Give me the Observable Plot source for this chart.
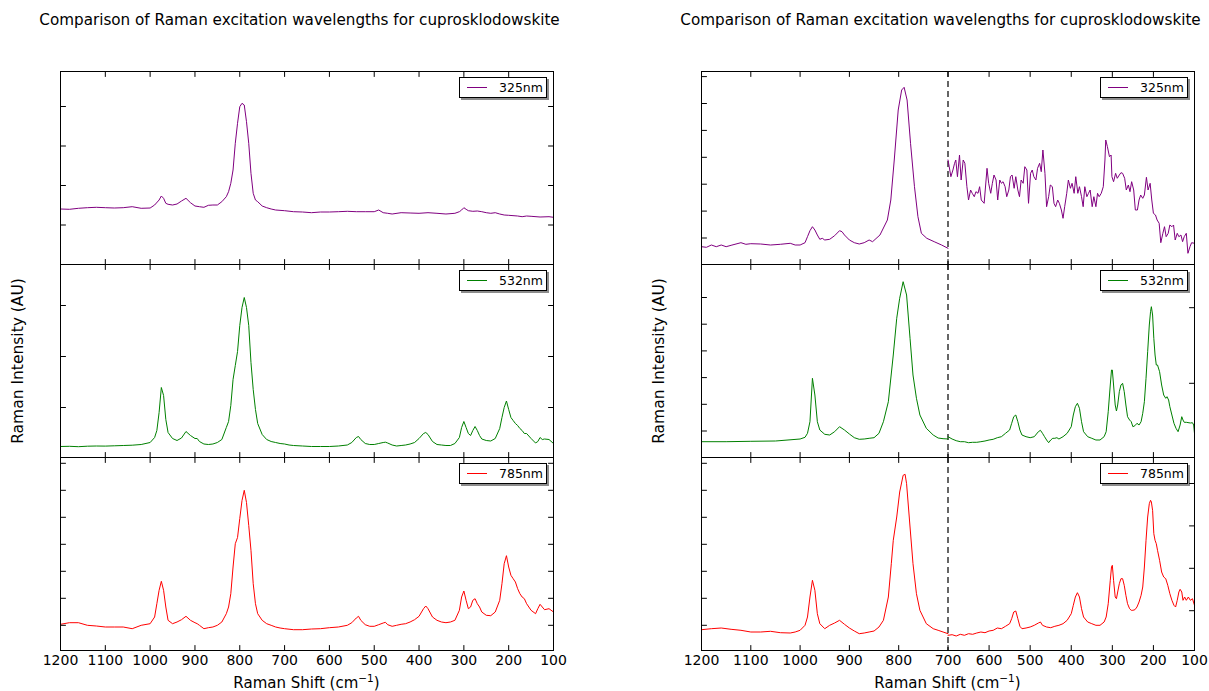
<!DOCTYPE html>
<html>
<head>
<meta charset="utf-8">
<script src="https://cdn.jsdelivr.net/npm/d3@7"></script>
<script src="https://cdn.jsdelivr.net/npm/@observablehq/plot@0.6"></script>
<style>
  body { margin: 0; background: #fff; }
  #fig { position: relative; width: 1209px; height: 691px; overflow: hidden; background: #fff;
         font-family: "DejaVu Sans", sans-serif; color: #000; }
  .txt { position: absolute; white-space: nowrap; }
  .legend { position: absolute; box-sizing: border-box; width: 88px; height: 21px; background: #fff;
            border: 1px solid #000; box-shadow: 2px 2px 0 rgba(0,0,0,0.45); }
</style>
</head>
<body>
<div id="fig"></div>
<script>
// ---------------- data (Raman shift in cm-1, intensity in arbitrary units) ----------------
const chartTitle = "Comparison of Raman excitation wavelengths for cuprosklodowskite";
const yTitle = "Raman Intensity (AU)";
const lasers = ["325nm", "532nm", "785nm"];
const laserColors = ["purple", "green", "red"];
const xTicks = [1200, 1100, 1000, 900, 800, 700, 600, 500, 400, 300, 200, 100];
const splitShift = 700;

// left column: full spectra
const shift325L = [1200,1180,1160,1140,1120,1100,1080,1060,1040,1020,1000,990,980,975,970,965,960,950,940,930,920,910,900,890,880,870,860,850,840,830,825,820,815,810,805,800,795,790,785,780,775,770,765,760,750,740,730,720,700,680,660,640,620,600,580,560,540,520,500,490,480,470,460,440,420,400,380,360,340,320,310,305,300,295,290,280,270,260,250,240,230,220,210,200,180,170,160,150,130,110,100];
const int325L = [55.5,55.2,56.2,56.8,57.2,56.8,56.5,56.8,57.8,56.2,56.5,59.5,64.5,68.5,66.2,61.2,60.2,59.5,60.5,63.5,66.2,61.8,58.5,57.8,57.2,59.2,59.5,59.5,62.8,67.8,72.8,81.2,94.5,121.2,141.2,157.8,161.2,159.5,142.8,121.2,91.2,71.2,64.5,62.8,58.5,56.8,55.5,54.5,53.8,52.8,52.5,51.8,52.5,52.5,52.8,53.2,52.8,52.8,52.8,54.5,51.8,51.2,50.5,51.8,51.5,51.2,51.8,51.2,50.5,51.2,52.8,54.5,56.8,55.2,53.8,53.2,53.5,52.8,51.8,51.2,51.8,50.5,49.5,49.2,48.5,47.8,48.5,48.2,47.5,47.8,47.2];

const shift532L = [1200,1180,1160,1140,1120,1100,1080,1060,1040,1020,1000,990,985,980,975,970,965,960,950,940,930,920,910,900,895,890,880,870,860,850,840,830,825,820,815,810,805,800,795,790,785,780,775,770,765,760,750,740,730,720,710,700,690,680,660,640,620,600,580,560,550,540,535,530,520,510,500,490,480,475,470,460,450,440,430,420,410,400,390,385,380,370,360,350,340,330,320,310,305,300,295,290,285,280,275,270,265,260,250,240,230,220,215,210,205,200,195,190,185,180,175,170,165,160,150,140,135,130,125,120,110,100];
const int532L = [11,11.2,10.8,11.3,11.5,11.4,11.7,12,12.3,13,15,20,27,45,70,62,38,25,19,17,19.5,26,22,19,19,16,13.5,13,13.5,15,18,30,36,52,78,92,106,132,150,160,150,132,95,68,48,34,23,18,16,15,14,13.5,12.5,12,11.5,11,11,11,11.5,12.5,15,20,21,18,14,13,13,14,15,15.3,14.5,12.5,11.5,12,12.5,13.5,15,19,24,25,23,16,13,12.5,12,12,14,20,30,36,30,24,22,27,31,27,22,18.5,17,16.5,19,29,40,50,56.5,48,40,37,34,32,29,27,24,24,19,14.5,16,20,18,18.5,18,14];

const shift785L = [1200,1180,1160,1140,1120,1100,1080,1060,1040,1020,1000,990,985,980,975,970,965,960,950,940,930,920,910,900,895,890,880,870,860,850,840,830,825,820,815,810,805,800,795,790,785,780,775,770,765,760,750,740,730,720,710,700,680,660,640,620,600,580,560,550,540,535,530,520,510,500,490,480,475,470,460,450,440,430,420,410,400,390,385,380,370,360,350,340,330,320,310,305,300,295,290,285,280,275,270,265,260,250,240,230,220,215,210,205,200,195,190,185,180,175,170,165,160,150,140,135,130,125,120,110,100];
const int785L = [26.2,27.8,27.8,25.2,24.5,23.5,23.5,23.5,21.8,25.2,26.8,33.5,46.8,60.2,69.2,60.2,43.5,30.2,26.8,28.5,30.8,34.2,30.2,27.8,26.8,25.2,21.8,22.8,23.5,25.2,28.5,36.8,43.5,56.8,83.5,106.8,113,132,150,160.2,148,125,100.2,66.8,46.8,36.8,30.2,26.8,25.2,23.5,22.5,21.8,20.8,20.8,21.5,21.8,22.8,23.5,25.2,27.8,32.5,34.2,30.2,25.8,24.2,24.2,25.8,27.5,28.2,25.8,24.2,25.2,26.2,26.8,28.5,30.8,34.2,41.8,44.5,41.8,33.5,30.2,28.5,27.8,28.5,30.2,40.2,53.5,59.5,50.2,41.8,43.5,50.2,51.8,46.8,43.5,38.5,35.2,34.8,38.5,50.2,66.8,86.8,94.8,83.5,75.2,71.8,68.5,61.8,56.8,53.5,51.8,46.8,40.2,36.8,41.8,46.2,43.5,40.8,41.8,38.5];

// right column: part above 700 cm-1 (left y axis) and part below 700 cm-1 (right, twin y axis)
const shift325Ra = [1200,1190,1180,1170,1160,1150,1140,1130,1120,1110,1100,1080,1060,1040,1020,1010,1000,990,985,980,975,970,965,960,955,950,940,930,920,915,910,900,890,880,870,860,853,838,823,816,809,801,794,789,783,776,768,761,754,743,728,713,700];
const int325Ra = [17.8,17.2,19.5,17.8,19.5,17.8,19.2,20.5,21.8,20.2,20.8,20.5,19.5,20.2,21.2,19.5,19.5,21.8,27.8,33.8,37.8,34.5,29.5,25.2,26.2,24.5,25.2,28.8,33.8,32.8,29.5,24.5,21.8,20.5,21.8,24.5,22.8,29.5,44.5,64.5,104.5,154.5,174.5,177.2,164.5,121.2,77.8,47.8,31.2,26.2,22.8,19.5,16.2];
const shift325Rb = [700,697,693,688,684,681,677,672,668,663,659,654,650,645,641,636,632,627,623,619,612,605,601,596,592,588,583,579,574,570,566,561,557,552,548,544,539,535,530,526,522,517,513,508,504,499,495,491,486,482,477,473,469,464,460,455,451,446,442,438,433,429,424,420,416,411,407,402,398,393,389,384,380,375,371,367,362,358,354,349,345,340,336,332,327,322,318,316,312,307,303,301,297,292,288,283,279,275,270,266,261,257,253,248,244,239,235,231,226,222,217,213,208,204,200,195,191,186,182,177,173,169,164,160,155,151,147,142,138,133,129,125,120,116,111,107,100];
const int325Rb = [104.5,97.8,87.8,94.5,101.2,104.5,87.8,109.5,84.5,104.5,101.2,77.8,64.5,74.5,71.2,67.8,72.8,71.2,77.8,64.5,61.2,96.2,81.2,71.2,81.2,89.5,84.5,64.5,84.5,81.2,82.8,77.8,67.8,74.5,87.8,89.5,76.2,87.8,74.5,67.8,84.5,81.2,97.8,94.5,61.2,91.2,94.5,87.8,84.5,96.2,101.2,92.8,114.5,91.2,57.8,67.8,79.5,77.8,61.2,57.8,64.5,61.2,54.5,46.2,57.8,71.2,84.5,76.2,81.2,71.2,87.8,71.2,77.8,67.8,57.8,77.8,67.8,71.2,74.5,57.8,67.8,57.8,71.2,67.8,71.2,77.8,104.5,124.5,117.8,107.8,109.5,87.8,82.8,91.2,86.2,89.5,91.8,91.2,86.2,74.5,79.5,72.8,82.8,74.5,54.5,54.5,64.5,69.5,66.2,69.5,87.2,74.5,81.2,64.5,51.2,49.5,44.5,41.2,21.8,31.2,37.8,27.8,31.2,39.5,37.8,39.5,24.5,31.2,27.8,29.5,22.8,27.8,31.2,11.2,17.8,21.8,21.2];

const shift532Ra = [1200,1150,1100,1050,1000,990,985,980,975,970,965,960,950,940,930,920,910,900,890,880,870,860,850,840,831,821,811,804,798,791,784,777,771,764,757,744,730,720,710,700];
const int532Ra = [15.8,15.8,16.2,16.5,18.5,20.2,24.2,35.8,79.2,62.5,35.8,27.5,23.2,22.5,25.8,30.8,27.5,23.5,19.8,18.2,18.5,19.2,19.8,24.2,35.8,55.8,102.5,139.2,159.2,175.8,162.5,119.2,82.5,59.2,42.5,29.2,22.5,19.5,18.8,18.5];
const shift532Rb = [700,690,680,670,660,650,640,630,620,610,600,590,580,570,560,550,545,540,535,530,525,520,510,500,490,480,475,470,465,460,455,450,445,440,435,430,420,410,400,395,390,385,380,375,370,360,350,340,330,320,315,310,305,302,300,297,293,290,287,283,279,275,271,267,263,258,254,250,245,240,235,230,226,222,218,214,210,207,205,202,199,196,193,190,185,180,175,170,167,163,160,155,150,145,140,135,131,128,125,120,110,105,102,100];
const int532Rb = [20.8,18.5,16.8,15.8,15.8,14.8,15.2,15.2,15.8,16.5,17.5,18.2,19.8,20.8,24.2,27.5,34.2,40.8,42.5,35.8,27.5,22.5,20.8,19.8,20.8,25.8,27.2,24.2,20.8,17.5,14.8,17.5,19.2,19.2,19.8,18.5,20.8,24.2,30.8,42.5,50.8,54.2,49.2,35.8,25.8,20.8,19.2,17.5,17.5,20.8,25.8,45.8,72.5,87.5,87.5,72.5,52.5,46.5,52.5,65.8,72.5,74.2,65.8,52.5,40.8,37.5,35.8,30.8,31.8,34.2,32.5,35.8,44.2,55.8,79.2,105.8,132.5,145.8,150.8,142.5,119.2,102.5,92.5,92.5,85.8,72.5,62.5,59.2,60.8,57.5,50.8,42.5,34.2,29.2,25.8,32.5,40.8,37.5,35.2,35.2,34.5,34.8,32.5,24.2];

const shift785Ra = [1200,1180,1160,1140,1120,1100,1080,1060,1040,1020,1010,1000,990,985,980,975,970,965,960,950,940,930,920,910,900,890,880,870,860,850,840,831,821,815,811,804,798,791,787,784,777,771,764,757,744,730,720,710,700];
const int785Ra = [20.8,21.8,22.5,21.2,20.2,18.5,18.5,19.2,17.8,17.5,18.5,20.2,25.2,33.5,53.5,70.2,60.2,36.8,26.8,21.8,25.2,27.5,30.2,26.2,22.5,19.5,16.8,17.5,18.5,19.5,23.5,30.2,53.5,86.8,110.2,133.5,158.5,175.2,176.2,166.8,123.5,86.8,56.8,40.2,26.8,21.8,20.2,18.5,16.8];
const shift785Rb = [700,690,680,670,660,650,640,630,620,610,600,590,580,570,560,550,545,540,535,530,525,520,510,500,490,480,475,470,460,450,440,430,420,410,400,395,390,385,380,375,370,360,350,340,330,320,315,310,305,302,300,297,293,290,287,283,279,275,271,267,263,258,254,250,245,240,235,230,226,222,218,214,210,207,205,202,199,196,193,190,185,180,175,170,165,160,155,150,146,142,138,135,131,128,124,120,115,110,105,100];
const int785Rb = [15.2,15.8,14.5,16.2,15.2,16.8,16.2,17.5,18.5,17.8,19.5,20.2,22.5,21.8,24.2,26.8,31.8,38.5,39.5,31.8,24.2,21.8,22.5,23.5,25.2,27.5,28.5,25.2,23.5,22.8,24.2,25.2,26.8,30.2,36.8,45.2,53.5,57.8,53.5,41.8,33.5,28.5,26.8,25.2,25.2,28.5,33.5,46.8,70.2,83.5,85.2,70.2,53.5,51.8,58.5,66.8,71.8,71.8,65.2,55.2,46.8,41.8,40.2,40.2,40.8,43.5,48.5,55.2,63.5,83.5,110.2,133.5,146.8,150.2,148.5,140.2,116.8,110.2,106.8,100.2,90.2,78.5,73.5,71.8,65.2,56.8,50.2,45.2,43.5,50.2,58.5,61.2,58.5,50.2,53.5,50.2,53.5,50.2,51.8,45.2];

// y tick values (unlabelled) for each panel axis
const yTicks325L = [39.5, 79, 118.5, 158];
const yTicks532L = [50, 101, 152];
const yTicks785L = [25.2, 52.2, 79.2, 106.2, 133.2, 160.2, 187.2];
const yTicks325R = [26.5, 53.4, 80.3, 107.2, 134.1, 161, 187.9];
const yTicks532R = [26.5, 53.2, 79.9, 106.6, 133.3, 160];
const yTicks785R = [25.2, 52.2, 79.2, 106.2, 133.2, 160.2, 187.2];
const yTwin325R = [];
const yTwin532R = [74.2, 149.8];
const yTwin785R = [39.8, 82.2, 124.6, 167];
const yDomain = [0, 193];

// ---------------- layout ----------------
const FW = 493, FH = 193, M = 10, MB = 40;
const colX = [60, 701];
const rowY = [71, 264, 457];
const fig = document.getElementById("fig");

const zip = (xs, ys) => xs.map((x, i) => ({x, y: ys[i]}));
const tickShape = {draw(ctx, l) { ctx.moveTo(0, 0); ctx.lineTo(0, -l); }};
const tk = {length: 5, anchor: "start", shape: tickShape, stroke: "black", strokeWidth: 1};

const panels = [
  {col: 0, row: 0, parts: [[shift325L, int325L]], yl: yTicks325L, yr: yTicks325L},
  {col: 0, row: 1, parts: [[shift532L, int532L]], yl: yTicks532L, yr: yTicks532L},
  {col: 0, row: 2, parts: [[shift785L, int785L]], yl: yTicks785L, yr: yTicks785L},
  {col: 1, row: 0, parts: [[shift325Ra, int325Ra], [shift325Rb, int325Rb]], yl: yTicks325R, yr: yTwin325R},
  {col: 1, row: 1, parts: [[shift532Ra, int532Ra], [shift532Rb, int532Rb]], yl: yTicks532R, yr: yTwin532R},
  {col: 1, row: 2, parts: [[shift785Ra, int785Ra], [shift785Rb, int785Rb]], yl: yTicks785R, yr: yTwin785R}
];

for (const p of panels) {
  const last = p.row === 2;
  const mb = last ? MB : M;
  const color = laserColors[p.row];
  const x = p.col === 0
    ? {type: "linear", domain: [1200, 100], range: [M, M + FW], axis: null}
    : {type: "linear", domain: [1200, splitShift, 100], range: [M, M + FW / 2, M + FW], axis: null};
  const marks = [];
  if (p.col === 1) marks.push(Plot.ruleX([splitShift], {stroke: "#333", strokeWidth: 1.5, strokeDasharray: "6,4"}));
  for (const [xs, ys] of p.parts) {
    marks.push(Plot.line(zip(xs, ys), {x: "x", y: "y", stroke: color, strokeWidth: 1}));
  }
  marks.push(
    Plot.vector(xTicks, {x: d => d, y: yDomain[1], rotate: 180, ...tk}),
    Plot.vector(xTicks, {x: d => d, y: yDomain[0], rotate: 0, ...tk}),
    Plot.vector(p.yl, {x: 1200, y: d => d, rotate: 90, ...tk}),
    Plot.vector(p.yr, {x: 100, y: d => d, rotate: -90, ...tk}),
    Plot.frame({stroke: "black", strokeWidth: 1})
  );
  if (last) {
    marks.push(Plot.axisX({ticks: xTicks, tickSize: 0, tickPadding: 5, tickFormat: d => String(d),
                           label: null, fontSize: 14, anchor: "bottom"}));
  }
  const svg = Plot.plot({
    width: FW + 2 * M, height: FH + M + mb,
    marginLeft: M, marginRight: M, marginTop: M, marginBottom: mb,
    x, y: {domain: yDomain, axis: null},
    style: {background: "transparent", overflow: "visible", fontFamily: "DejaVu Sans", fontSize: "14px", color: "black"},
    marks
  });
  svg.style.position = "absolute";
  svg.style.left = (colX[p.col] - M) + "px";
  svg.style.top = (rowY[p.row] - M) + "px";
  fig.appendChild(svg);

  // legend box
  const lg = document.createElement("div");
  lg.className = "legend";
  lg.style.left = (colX[p.col] + FW - 6 - 88) + "px";
  lg.style.top = (rowY[p.row] + 6) + "px";
  lg.innerHTML = `<div style="position:absolute;left:7px;top:9px;width:20px;border-top:1px solid ${color}"></div>` +
                 `<span style="position:absolute;left:39px;top:1px;font-size:12.5px;line-height:17px">${lasers[p.row]}</span>`;
  fig.appendChild(lg);
}

// titles and axis labels
for (let c = 0; c < 2; c++) {
  const cx = colX[c] + FW / 2;
  const t = document.createElement("div");
  t.className = "txt";
  t.style.cssText += `left:${cx - 7}px;top:11px;transform:translateX(-50%);font-size:15.2px;line-height:18px;`;
  t.textContent = chartTitle;
  fig.appendChild(t);

  const xl = document.createElement("div");
  xl.className = "txt";
  xl.style.cssText += `left:${cx}px;top:675px;transform:translateX(-50%);font-size:15px;line-height:17px;`;
  xl.innerHTML = 'Raman Shift (cm<sup style="font-size:10.5px;line-height:0">\u22121</sup>)';
  fig.appendChild(xl);

  const yl = document.createElement("div");
  yl.className = "txt";
  yl.style.cssText += `left:${colX[c] - 42}px;top:${rowY[0] + 1.5 * FH}px;transform:translate(-50%,-50%) rotate(-90deg);font-size:15.5px;line-height:17px;`;
  yl.textContent = yTitle;
  fig.appendChild(yl);
}
</script>
</body>
</html>
